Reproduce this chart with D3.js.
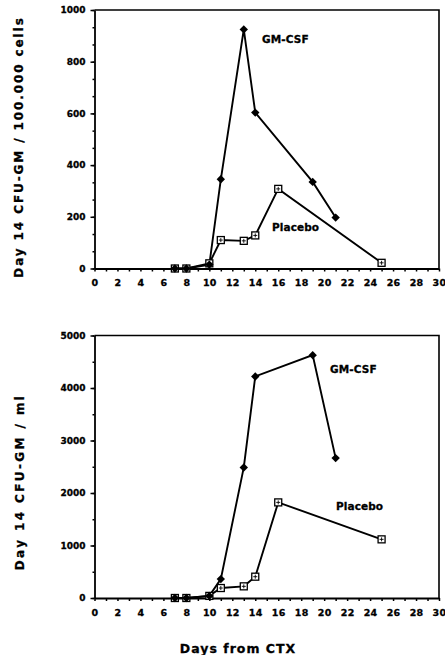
<!DOCTYPE html>
<html><head><meta charset="utf-8">
<script src="https://cdn.jsdelivr.net/npm/d3@7"></script>
<style>
html,body{margin:0;padding:0;background:#fff;}
svg{display:block;}
text{font-family:"DejaVu Sans",sans-serif;font-weight:bold;fill:#000;stroke:#000;stroke-width:0.3;}
</style></head>
<body>
<script>
// ---- data ----
const daysGM = [7, 8, 10, 11, 13, 14, 19, 21];
const daysPL = [7, 8, 10, 11, 13, 14, 16, 25];
const gmPerCells = [0, 0, 15, 345, 925, 603, 335, 197];
const plPerCells = [0, 0, 20, 110, 107, 128, 308, 22];
const gmPerMl = [0, 0, 40, 360, 2487, 4220, 4626, 2665];
const plPerMl = [0, 0, 40, 190, 222, 406, 1821, 1117];
const xTicks = d3.range(0, 31, 1);
const yTicksTop = [0, 200, 400, 600, 800, 1000];
const yTicksBottom = [0, 1000, 2000, 3000, 4000, 5000];
const seriesNames = ["GM-CSF", "Placebo"];
const yTitles = ["Day 14 CFU-GM / 100.000 cells", "Day 14 CFU-GM / ml"];
const xTitle = "Days from CTX";

const W = 445, H = 655;
const svg = d3.select("body").append("svg").attr("width", W).attr("height", H);

const x = d3.scaleLinear().domain([0, 30]).range([94.5, 439]);

function styleText(sel, size, ls) {
  sel.attr("font-size", size).attr("font-family", "DejaVu Sans").attr("font-weight", "bold")
    .attr("letter-spacing", ls).attr("fill", "#000").attr("stroke", "#000").attr("stroke-width", 0.25);
}

function panel(cfg) {
  const y = d3.scaleLinear().domain([0, cfg.max]).range([cfg.y0, cfg.y1]);
  const g = svg.append("g");

  // minor y ticks
  g.append("g").attr("transform", `translate(${x(0)},0)`)
    .call(d3.axisLeft(y).tickValues(cfg.minor).tickSize(2).tickFormat(""))
    .call(a => a.select(".domain").remove())
    .call(a => a.selectAll("line").attr("stroke-width", 1.5));

  // y axis
  const ya = g.append("g").attr("transform", `translate(${x(0)},0)`)
    .call(d3.axisLeft(y).tickValues(cfg.yTicks).tickSize(4).tickPadding(5).tickSizeOuter(0)
      .tickFormat(d3.format("d")));
  ya.select(".domain").attr("stroke-width", 1.8);
  ya.selectAll("line").attr("stroke-width", 1.5);
  styleText(ya.selectAll("text"), 9, 0);

  // x axis
  const xa = g.append("g").attr("transform", `translate(0,${y(0)})`)
    .call(d3.axisBottom(x).tickValues(xTicks).tickSize(3).tickPadding(8).tickSizeOuter(0)
      .tickFormat(d => d % 2 === 0 ? d : ""));
  xa.select(".domain").attr("stroke-width", 1.8);
  xa.selectAll("line").attr("stroke-width", 1.5);
  styleText(xa.selectAll("text"), 9.5, 0.3);

  // frame (top & right)
  g.append("path")
    .attr("d", `M${x(0)},${y(cfg.max)}H${x(30)}V${y(0)}`)
    .attr("fill", "none").attr("stroke", "#000").attr("stroke-width", 1.6);

  const line = d3.line().x(d => x(d[0])).y(d => y(d[1]));
  const pl = daysPL.map((d, i) => [d, cfg.pl[i]]);
  const gm = daysGM.map((d, i) => [d, cfg.gm[i]]);

  g.append("path").datum(pl).attr("d", line)
    .attr("fill", "none").attr("stroke", "#000").attr("stroke-width", 1.9);
  g.append("path").datum(gm).attr("d", line)
    .attr("fill", "none").attr("stroke", "#000").attr("stroke-width", 1.9);

  // placebo markers: open squares with inner cross
  const sq = g.selectAll(".sq").data(pl).enter().append("g")
    .attr("transform", d => `translate(${x(d[0])},${y(d[1])})`);
  sq.append("rect").attr("x", -3.5).attr("y", -3.5).attr("width", 7).attr("height", 7)
    .attr("fill", "#fff").attr("stroke", "#000").attr("stroke-width", 1.3);
  sq.append("path").attr("d", "M-2,0H2M0,-2V2").attr("stroke", "#000").attr("stroke-width", 0.9);

  // GM-CSF markers: filled diamonds
  g.selectAll(".dm").data(gm).enter().append("path")
    .attr("transform", d => `translate(${x(d[0])},${y(d[1])})`)
    .attr("d", "M0,-4.2L4.2,0L0,4.2L-4.2,0Z").attr("fill", "#000");

  // series labels
  g.append("text").attr("x", cfg.gmLab[0]).attr("y", cfg.gmLab[1])
    .attr("font-size", 10.5).attr("letter-spacing", 0.1).attr("dominant-baseline", "central")
    .text(seriesNames[0]);
  g.append("text").attr("x", cfg.plLab[0]).attr("y", cfg.plLab[1])
    .attr("font-size", 10.5).attr("letter-spacing", 0.1).attr("dominant-baseline", "central")
    .text(seriesNames[1]);

  // y title
  g.append("text")
    .attr("transform", `translate(${cfg.titleX},${cfg.titleY}) rotate(-90)`)
    .attr("text-anchor", "middle").attr("dominant-baseline", "central")
    .attr("font-size", 12).attr("letter-spacing", cfg.titleLs)
    .text(cfg.title);
}

panel({
  max: 1000, y0: 268.5, y1: 10,
  yTicks: yTicksTop, minor: d3.range(0, 1001, 200 / 3),
  gm: gmPerCells, pl: plPerCells,
  gmLab: [262, 39], plLab: [272, 227],
  title: yTitles[0], titleX: 19, titleY: 147, titleLs: 1.9
});

panel({
  max: 5000, y0: 598, y1: 335.5,
  yTicks: yTicksBottom, minor: d3.range(0, 5001, 500),
  gm: gmPerMl, pl: plPerMl,
  gmLab: [330, 369], plLab: [336, 506],
  title: yTitles[1], titleX: 19.5, titleY: 482, titleLs: 2.4
});

svg.append("text").attr("x", 238).attr("y", 648)
  .attr("text-anchor", "middle").attr("dominant-baseline", "central")
  .attr("font-size", 12.5).attr("letter-spacing", 1)
  .text(xTitle);
</script>
</body></html>
